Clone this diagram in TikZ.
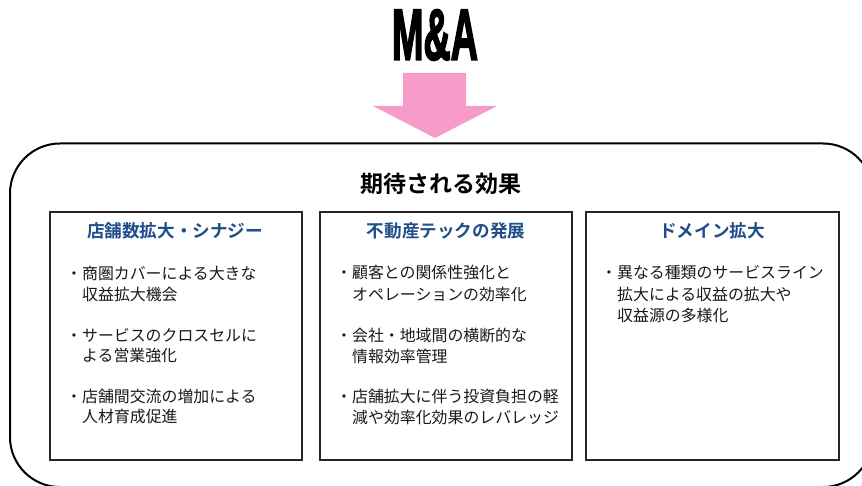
\documentclass[tikz,border=0pt]{standalone}
\usepackage{fontspec}
\setmainfont{Liberation Sans}
\newfontfamily\jpfont{Noto Sans CJK JP}
\newfontfamily\jpbold{Noto Sans CJK JP Bold}
\newfontfamily\titlefont[FakeBold=3]{Liberation Sans Bold}
\definecolor{headblue}{HTML}{1F4E8A}
\definecolor{arrowpink}{HTML}{F79BCB}
\begin{document}
\begin{tikzpicture}[x=1pt,y=-1pt,
  effbox/.style={draw=black!85,line width=1.8pt},
  headtxt/.style={inner sep=0pt,text=headblue,font=\jpbold\fontsize{17.6}{20}\selectfont},
  linetxt/.style={inner sep=0pt,anchor=west,text=black!90,font=\jpfont\fontsize{15.9}{18}\selectfont}]
\useasboundingbox (0,0) rectangle (862,486);
\begin{scope}
\clip (0,0) rectangle (862,486);
\draw[line width=2pt,rounded corners=50pt] (10,143.5) rectangle (873,487);
\end{scope}
% title
\node[inner sep=0pt] (ma) at (435,35) {\resizebox{86pt}{50pt}{\titlefont M\&A}};
% arrow
\fill[arrowpink] (403,73) -- (466,73) -- (466,106) -- (497,106) -- (435,138) -- (373,106) -- (403,106) -- cycle;
% heading
\node[inner sep=0pt,font=\jpbold\fontsize{23}{26}\selectfont] (eff) at (441,184) {期待される効果};
% boxes
\draw[effbox] (50,212) rectangle (302,460);
\draw[effbox] (320,212) rectangle (572,460);
\draw[effbox] (586,212) rectangle (839,460);
\node[headtxt] (h1) at (175,231) {店舗数拡大・シナジー};
\node[headtxt] (h2) at (446,231) {不動産テックの発展};
\node[headtxt] (h3) at (712,231) {ドメイン拡大};
% box 1
\node[linetxt] (a1) at (66,273) {・商圏カバーによる大きな};
\node[linetxt] (a2) at (82,294) {収益拡大機会};
\node[linetxt] (a3) at (66,335) {・サービスのクロスセルに};
\node[linetxt] (a4) at (82,356) {よる営業強化};
\node[linetxt] (a5) at (66,396) {・店舗間交流の増加による};
\node[linetxt] (a6) at (82,417) {人材育成促進};
% box 2
\node[linetxt] (b1) at (336,273) {・顧客との関係性強化と};
\node[linetxt] (b2) at (352,294) {オペレーションの効率化};
\node[linetxt] (b3) at (336,335) {・会社・地域間の横断的な};
\node[linetxt] (b4) at (352,356) {情報効率管理};
\node[linetxt] (b5) at (336,396) {・店舗拡大に伴う投資負担の軽};
\node[linetxt] (b6) at (352,417) {減や効率化効果のレバレッジ};
% box 3
\node[linetxt] (c1) at (601,273) {・異なる種類のサービスライン};
\node[linetxt] (c2) at (617,294) {拡大による収益の拡大や};
\node[linetxt] (c3) at (617,315) {収益源の多様化};
\end{tikzpicture}
\end{document}
